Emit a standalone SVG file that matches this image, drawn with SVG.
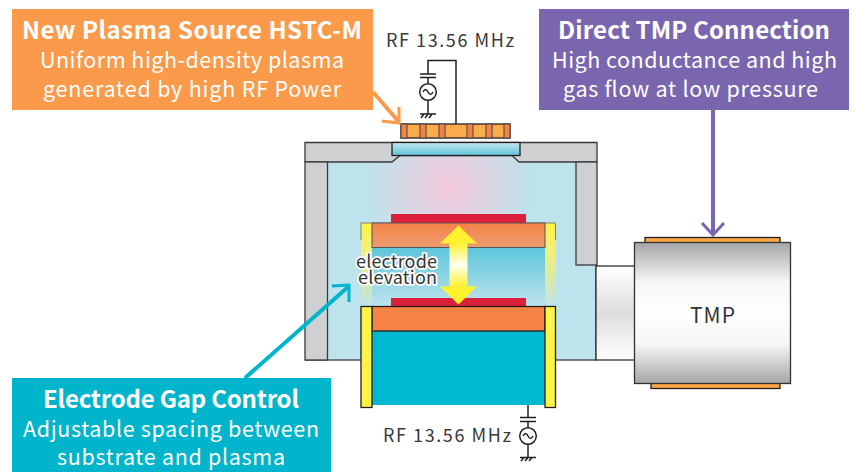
<svg xmlns="http://www.w3.org/2000/svg" width="857" height="472" viewBox="0 0 857 472">
<defs>
<radialGradient id="plasma" cx="450" cy="187" r="85" gradientUnits="userSpaceOnUse"><stop offset="0" stop-color="#f6c9dc"/><stop offset="1" stop-color="#f6c9dc" stop-opacity="0"/></radialGradient>
<linearGradient id="win" x1="0" y1="0" x2="0" y2="1"><stop offset="0" stop-color="#c5e8ef"/><stop offset="1" stop-color="#5cc2d6"/></linearGradient>
<linearGradient id="gap" x1="0" y1="0" x2="0" y2="1"><stop offset="0" stop-color="#5cc5da"/><stop offset="1" stop-color="#bde3ec"/></linearGradient>
<linearGradient id="upper" x1="0" y1="0" x2="0" y2="1"><stop offset="0" stop-color="#f58346"/><stop offset="1" stop-color="#ec9c72"/></linearGradient>
<linearGradient id="side" x1="0" y1="0" x2="0" y2="1"><stop offset="0" stop-color="#fff345"/><stop offset=".3" stop-color="#f8f070" stop-opacity=".95"/><stop offset="1" stop-color="#fff345" stop-opacity="0"/></linearGradient>
<linearGradient id="dbl" x1="0" y1="0" x2="0" y2="1"><stop offset="0" stop-color="#fff12e"/><stop offset=".22" stop-color="#fff12e"/><stop offset=".5" stop-color="#fffef0"/><stop offset=".78" stop-color="#fff12e"/><stop offset="1" stop-color="#fff12e"/></linearGradient>
<linearGradient id="pump" x1="0" y1="0" x2="0" y2="1"><stop offset="0" stop-color="#a5a6a9"/><stop offset=".28" stop-color="#f6f6f6"/><stop offset=".5" stop-color="#fff"/><stop offset=".72" stop-color="#f6f6f6"/><stop offset="1" stop-color="#a5a6a9"/></linearGradient>
<linearGradient id="duct" x1="0" y1="0" x2="0" y2="1"><stop offset="0" stop-color="#fff"/><stop offset=".5" stop-color="#dcdddd"/><stop offset="1" stop-color="#fff"/></linearGradient>
</defs>
<style>
text{font-family:"Noto Sans CJK JP","Noto Sans",sans-serif}
.h{font-size:24px;font-weight:700;fill:#fff;text-anchor:middle}
.s{font-size:21.5px;fill:#fff;text-anchor:middle}
.l{font-size:18px;fill:#3a3a3a}
.e{font-size:18px;fill:#333;text-anchor:middle;stroke:#fff;stroke-width:3.500;paint-order:stroke;stroke-linejoin:round}
.w{fill:none;stroke:#231f20;stroke-width:1.5}
.o{stroke:#231f20;stroke-width:1.3}
.g{fill:#cfd0d2;stroke:#3a3a3c;stroke-width:1.3}
</style>
<g id="chamber">
<path d="M327.500 162H392L400 155.500H512L519 162H576V265H596V360H327.500Z" fill="#bde3ec"/>
<path d="M327.500 162H392L400 155.500H512L519 162H576V265H596V360H327.500Z" fill="url(#plasma)"/>
<path d="M596 265V360H305" fill="none" stroke="#555" stroke-width="1.300"/>
<path class="g" d="M305 142.500H597V162H519L512 155.500H400L392 162H305Z"/>
<rect class="g" x="305" y="162" width="22.500" height="198"/>
<rect class="g" x="576" y="162" width="21" height="103"/>
<rect id="window" x="392" y="142.500" width="128" height="13" fill="url(#win)" stroke="#231f20" stroke-width="1.300"/>
</g>
<g id="coil">
<rect class="o" x="401" y="124" width="109" height="14" fill="#fbab4b"/>
<g fill="#f58345" stroke="#444" stroke-width="1"><rect x="401" y="124" width="6" height="14"/><rect x="420" y="124" width="6" height="14"/><rect x="439" y="124" width="6" height="14"/><rect x="467" y="124" width="6" height="14"/><rect x="486" y="124" width="6" height="14"/><rect x="504" y="124" width="6" height="14"/></g>
</g>
<g id="top-rf">
<text class="l" x="386" y="47" textLength="128">RF 13.56 MHz</text>
<path class="w" d="M456 124V60.500H428V74M420 74H436M420 77.500H436M428 77.500V84M428 100V114M420 114H436M421 118L424 114M425 118L428 114M429 118L432 114"/>
<circle class="w" cx="428" cy="92" r="8.300"/>
<path class="w" d="M423 92Q425.500 87 428 92T433 92"/>
</g>
<g id="upper-electrode">
<rect x="372" y="247.500" width="173" height="58" fill="url(#gap)"/>
<rect x="361" y="223" width="11" height="83" fill="url(#side)"/>
<rect x="545" y="223" width="10.500" height="83" fill="url(#side)"/>
<path d="M361 240V223H555.500V240" fill="none" stroke="#666" stroke-width=".8"/>
<rect x="391" y="214" width="135" height="9" fill="#dc203c"/>
<rect x="372" y="223" width="173" height="24.500" fill="url(#upper)" stroke="#555" stroke-width="1"/>
</g>
<g id="lower-electrode">
<rect x="391" y="298" width="135" height="8.500" fill="#dc203c"/>
<rect x="372" y="331" width="173" height="74" fill="#00b8d0"/>
<rect class="o" x="372" y="306.500" width="173" height="24.500" fill="#f58346"/>
<rect class="o" x="361" y="306.500" width="11" height="101" fill="#fff345"/>
<rect class="o" x="545" y="306.500" width="10.500" height="101" fill="#fff345"/>
</g>
<g id="bottom-rf">
<text class="l" x="383" y="442" textLength="128">RF 13.56 MHz</text>
<path class="w" d="M528 405V417.500M520 417.500H536M520 421.500H536M528 421.500V428M528 444V457.500M520 457.500H536M521 461L524 457.500M525 461L528 457.500M529 461L532 457.500"/>
<circle class="w" cx="528" cy="436" r="8.300"/>
<path class="w" d="M523 436Q525.500 431 528 436T533 436"/>
</g>
<g id="pump-unit">
<rect x="596" y="266" width="39" height="94" fill="url(#duct)" stroke="#231f20" stroke-width="1.200"/>
<rect class="o" x="645" y="237.500" width="135" height="5.500" fill="#fba644"/>
<rect class="o" x="651" y="383" width="129" height="5.500" fill="#fba644"/>
<rect x="634.500" y="242.500" width="156" height="141" fill="url(#pump)" stroke="#333" stroke-width="1.300"/>
<text x="690" y="322.500" fill="#333" textLength="45" style="font-size:21px">TMP</text>
</g>
<g id="connectors" fill="none" stroke-width="4">
<g stroke="#fb9a4a"><path d="M373 92L399 122"/><path stroke-width="3" d="M399 107V123L382 121"/></g>
<g stroke="#7a66ae"><path d="M713 108V234"/><path stroke-width="3" d="M702 223L713 235L724 223"/></g>
<g stroke="#00b4cb"><path d="M245 378L348 287"/><path stroke-width="3" d="M332 286L349 285L349 302"/></g>
</g>
<g id="elevation-arrow">
<path d="M458.500 225.500L477 243.500H467.500V286.500H477L458.500 304.500L440 286.500H449.500V243.500H440Z" fill="url(#dbl)"/>
<text class="e" x="396.500" y="268" textLength="81">electrode</text>
<text class="e" x="397.500" y="284" textLength="79">elevation</text>
</g>
<g id="callout-plasma">
<rect x="12" y="9" width="361" height="101" fill="#fb9a4a"/>
<text class="h" x="192" y="38.500" textLength="340">New Plasma Source HSTC-M</text>
<text class="s" x="192" y="68" textLength="304">Uniform high-density plasma</text>
<text class="s" x="192" y="96.500" textLength="298">generated by high RF Power</text>
</g>
<g id="callout-tmp">
<rect x="539" y="9" width="310" height="101" fill="#7a66ae"/>
<text class="h" x="694" y="38.500" textLength="272">Direct TMP Connection</text>
<text class="s" x="694.500" y="68" textLength="285">High conductance and high</text>
<text class="s" x="690.500" y="96.500" textLength="255">gas flow at low pressure</text>
</g>
<g id="callout-gap">
<rect x="12" y="378" width="319" height="94" fill="#00b4cb"/>
<text class="h" x="171" y="407.500" textLength="256">Electrode Gap Control</text>
<text class="s" x="171" y="436.500" textLength="296">Adjustable spacing between</text>
<text class="s" x="171" y="465" textLength="228">substrate and plasma</text>
</g>
</svg>
